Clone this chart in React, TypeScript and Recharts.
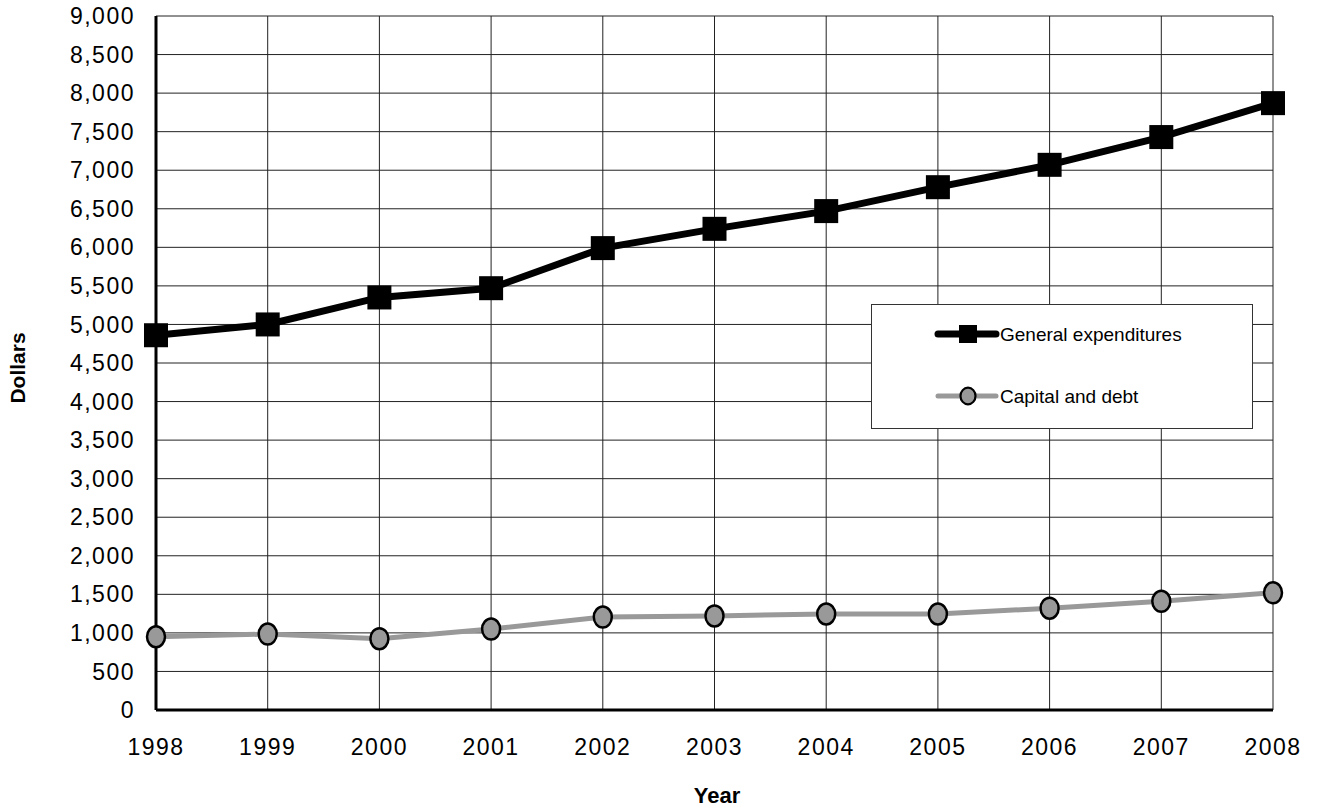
import React from "react";
import { LineChart, Line, XAxis, YAxis, CartesianGrid, Legend, Label } from "recharts";

const years = ["1998", "1999", "2000", "2001", "2002", "2003", "2004", "2005", "2006", "2007", "2008"];
const generalExpenditures = [4860, 5000, 5350, 5470, 5990, 6240, 6470, 6780, 7070, 7430, 7870];
const capitalAndDebt = [950, 985, 925, 1050, 1205, 1220, 1245, 1245, 1320, 1410, 1520];
const yTicks = [0, 500, 1000, 1500, 2000, 2500, 3000, 3500, 4000, 4500, 5000, 5500, 6000, 6500, 7000, 7500, 8000, 8500, 9000];

const seriesNames = { general: "General expenditures", capital: "Capital and debt" };

const data = years.map((y, i) => ({ year: y, general: generalExpenditures[i], capital: capitalAndDebt[i] }));

const FONT = "'Liberation Sans', Arial, sans-serif";

const SquareDot = (props: any) => {
  const { cx, cy, index } = props;
  if (cx == null || cy == null) return <g key={"s" + index} />;
  return <rect key={"s" + index} x={cx - 12} y={cy - 12} width={24} height={24} fill="#000" />;
};

const CircleDot = (props: any) => {
  const { cx, cy, index } = props;
  if (cx == null || cy == null) return <g key={"c" + index} />;
  return <ellipse key={"c" + index} cx={cx} cy={cy} rx={9} ry={10.5} fill="#999" stroke="#000" strokeWidth={2.5} />;
};

const renderLegend = () => (
  <svg width={382} height={125} style={{ display: "block" }}>
    <line x1={66} y1={29} x2={124} y2={29} stroke="#000" strokeWidth={7} strokeLinecap="round" />
    <rect x={87} y={20} width={18} height={18} fill="#000" />
    <text x={128} y={36} fontFamily={FONT} fontSize={19} fill="#000">{seriesNames.general}</text>
    <line x1={66} y1={91} x2={124} y2={91} stroke="#999" strokeWidth={5} strokeLinecap="round" />
    <ellipse cx={96} cy={91} rx={7.5} ry={8.3} fill="#999" stroke="#000" strokeWidth={2.2} />
    <text x={128} y={98} fontFamily={FONT} fontSize={19} fill="#000">{seriesNames.capital}</text>
  </svg>
);

export default function App() {
  return (
    <div style={{ position: "absolute", left: 0, top: 0, width: 1322, height: 812, background: "#fff" }}>
      <LineChart width={1322} height={812} data={data} margin={{ top: 16, right: 49, bottom: 12, left: 0 }}>
        <CartesianGrid stroke="#222" strokeWidth={1} vertical={true} horizontal={true} />
        <XAxis
          dataKey="year"
          height={90}
          tickLine={false}
          tickSize={0}
          tickMargin={29}
          axisLine={{ stroke: "#000", strokeWidth: 3 }}
          tick={{ fill: "#000", fontSize: 23, fontFamily: FONT, letterSpacing: 1.5 }}
          interval={0}
        >
          <Label
            content={() => (
              <text x={717} y={803} textAnchor="middle" fontFamily={FONT} fontWeight="bold" fontSize={22} fill="#000">Year</text>
            )}
          />
        </XAxis>
        <YAxis
          width={156}
          domain={[0, 9000]}
          ticks={yTicks}
          interval={0}
          tickLine={false}
          tickSize={0}
          tickMargin={21}
          axisLine={{ stroke: "#000", strokeWidth: 3 }}
          tick={{ fill: "#000", fontSize: 23, fontFamily: FONT, letterSpacing: 1.5 }}
          tickFormatter={(v: number) => v.toLocaleString("en-US")}
        >
          <Label
            content={() => (
              <text x={25} y={368} transform="rotate(-90 25 368)" textAnchor="middle" fontFamily={FONT} fontWeight="bold" fontSize={21} fill="#000">Dollars</text>
            )}
          />
        </YAxis>
        <Legend
          layout="horizontal"
          verticalAlign="middle"
          align="center"
          width={382}
          height={125}
          content={renderLegend}
          wrapperStyle={{ left: 871, top: 304, width: 382, height: 125, border: "1px solid #333", background: "#fff", boxSizing: "border-box" }}
        />
        <Line
          type="linear"
          dataKey="capital"
          name={seriesNames.capital}
          stroke="#999"
          strokeWidth={5}
          dot={CircleDot}
          isAnimationActive={false}
        />
        <Line
          type="linear"
          dataKey="general"
          name={seriesNames.general}
          stroke="#000"
          strokeWidth={7}
          dot={SquareDot}
          isAnimationActive={false}
        />
      </LineChart>
    </div>
  );
}
